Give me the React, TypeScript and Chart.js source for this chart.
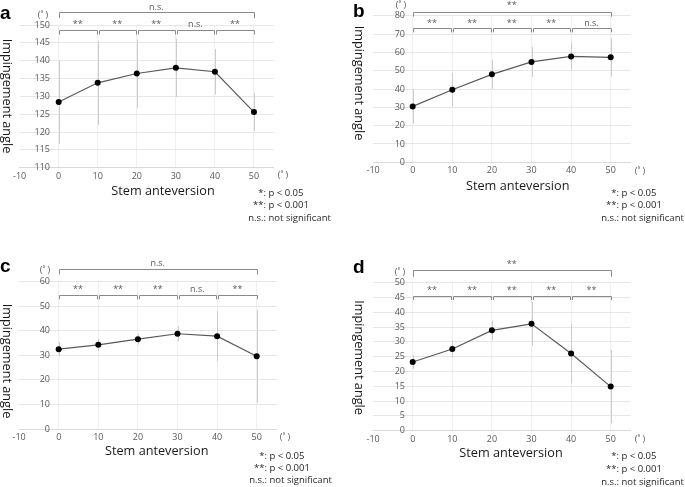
import React, { useEffect, useRef } from "react";
import { Chart, registerables } from "chart.js";

Chart.register(...registerables);

// ---------- data ----------
const ANTEVERSION = [0, 10, 20, 30, 40, 50];
const X_TICKS = [-10, 0, 10, 20, 30, 40, 50];

const A_MEAN = [128.4, 133.8, 136.4, 138.0, 136.9, 125.6];
const A_SD = [11.7, 11.8, 9.6, 8.2, 6.4, 5.3];
const A_Y_TICKS = [110, 115, 120, 125, 130, 135, 140, 145, 150];
const A_PAIR_SIG = ["**", "**", "**", "n.s.", "**"];
const A_ALL_SIG = "n.s.";

const B_MEAN = [30.5, 39.6, 48.0, 54.8, 57.8, 57.3];
const B_SD = [9.3, 9.2, 7.9, 8.2, 7.5, 10.5];
const B_Y_TICKS = [0, 10, 20, 30, 40, 50, 60, 70, 80];
const B_PAIR_SIG = ["**", "**", "**", "**", "n.s."];
const B_ALL_SIG = "**";

const C_MEAN = [32.5, 34.3, 36.6, 38.8, 37.8, 29.6];
const C_SD = [3.0, 2.6, 2.2, 3.0, 10.3, 18.9];
const C_Y_TICKS = [0, 10, 20, 30, 40, 50, 60];
const C_PAIR_SIG = ["**", "**", "**", "n.s.", "**"];
const C_ALL_SIG = "n.s.";

const D_MEAN = [23.2, 27.6, 33.9, 36.1, 26.1, 14.9];
const D_SD = [2.3, 2.9, 3.3, 7.4, 10.1, 12.4];
const D_Y_TICKS = [0, 5, 10, 15, 20, 25, 30, 35, 40, 45, 50];
const D_PAIR_SIG = ["**", "**", "**", "**", "**"];
const D_ALL_SIG = "**";

const LEGEND_KEYS = ["*", "**", "n.s."];
const LEGEND_TEXTS = ["p < 0.05", "p < 0.001", "not significant"];

const X_TITLE = "Stem anteversion";
const Y_TITLE = "Impingement angle";
const UNIT = "(\u02da )";

// ---------- layout ----------
const FONT = "'Open Sans', 'Noto Sans', sans-serif";

const PANELS = [
  {
    id: "a", mean: A_MEAN, sd: A_SD, yTicks: A_Y_TICKS, pairSig: A_PAIR_SIG, allSig: A_ALL_SIG,
    left: 0, top: 0, w: 340, h: 240,
    area: { left: 19.6, right: 273.5, top: 25, bottom: 167.7 }, labelRight: 50,
    letter: { x: 0, y: 19 }, yTitle: { x: 7, y: 96 }, xTitle: { x: 163, y: 191 },
    unitTop: { x: 43, y: 15 }, unitRight: { x: 283, y: 175.5 },
    all: { y: 12.3, tick: 18, label: 7 }, pair: { y: 30, tick: 34.5, label: 24 },
    legend: { x: 264, y: 193, dy: 12.5 },
  },
  {
    id: "b", mean: B_MEAN, sd: B_SD, yTicks: B_Y_TICKS, pairSig: B_PAIR_SIG, allSig: B_ALL_SIG,
    left: 340, top: 0, w: 345, h: 240,
    area: { left: 33.1, right: 290.5, top: 15.7, bottom: 162.3 }, labelRight: 65,
    letter: { x: 13, y: 17 }, yTitle: { x: 19, y: 83 }, xTitle: { x: 177.7, y: 186 },
    unitTop: { x: 61, y: 5 }, unitRight: { x: 300, y: 171 },
    all: { y: 12.3, tick: 16.7, label: 5 }, pair: { y: 27.7, tick: 32.3, label: 23 },
    legend: { x: 277, y: 193, dy: 12.7 },
  },
  {
    id: "c", mean: C_MEAN, sd: C_SD, yTicks: C_Y_TICKS, pairSig: C_PAIR_SIG, allSig: C_ALL_SIG,
    left: 0, top: 240, w: 340, h: 247,
    area: { left: 19.1, right: 276.5, top: 41.7, bottom: 189 }, labelRight: 50,
    letter: { x: 0, y: 32 }, yTitle: { x: 7, y: 121 }, xTitle: { x: 156.7, y: 211 },
    unitTop: { x: 45, y: 30.5 }, unitRight: { x: 285, y: 197.7 },
    all: { y: 29, tick: 34.3, label: 23.3 }, pair: { y: 55, tick: 59.3, label: 49 },
    legend: { x: 265, y: 216, dy: 12 },
  },
  {
    id: "d", mean: D_MEAN, sd: D_SD, yTicks: D_Y_TICKS, pairSig: D_PAIR_SIG, allSig: D_ALL_SIG,
    left: 340, top: 240, w: 345, h: 247,
    area: { left: 33.1, right: 290.5, top: 42.7, bottom: 190.7 }, labelRight: 65,
    letter: { x: 13, y: 33 }, yTitle: { x: 19, y: 117.6 }, xTitle: { x: 171, y: 213.3 },
    unitTop: { x: 60, y: 32 }, unitRight: { x: 300, y: 199.5 },
    all: { y: 30, tick: 36.7, label: 24 }, pair: { y: 55.7, tick: 60, label: 50.7 },
    legend: { x: 277, y: 216, dy: 13 },
  },
];

const Y_W = 4;

function makeExtras(p: any) {
  return {
    id: "extras_" + p.id,
    beforeDatasetsDraw(chart: any) {
      const { ctx } = chart;
      const xs = chart.scales.x;
      const ys = chart.scales.y;
      ctx.save();
      ctx.strokeStyle = "#cccccc";
      ctx.lineWidth = 1;
      ANTEVERSION.forEach((v, i) => {
        const x = Math.round(xs.getPixelForValue(v)) + 0.5;
        const y1 = ys.getPixelForValue(p.mean[i] + p.sd[i]);
        const y2 = ys.getPixelForValue(p.mean[i] - p.sd[i]);
        ctx.beginPath();
        ctx.moveTo(x, y1);
        ctx.lineTo(x, y2);
        ctx.stroke();
      });
      ctx.restore();
    },
    afterDraw(chart: any) {
      const { ctx } = chart;
      const xs = chart.scales.x;
      const ys = chart.scales.y;
      const px = (v: number) => xs.getPixelForValue(v);
      ctx.save();
      // y tick labels, placed right of the plot's left edge (Excel-style axis at x = 0)
      ctx.fillStyle = "#595959";
      ctx.font = `9px ${FONT}`;
      ctx.textAlign = "right";
      ctx.textBaseline = "middle";
      ys.ticks.forEach((t: any) => {
        ctx.fillText(String(t.value), p.labelRight, ys.getPixelForValue(t.value));
      });
      // brackets
      ctx.strokeStyle = "#8a8a8a";
      ctx.lineWidth = 1;
      const bracket = (x1: number, x2: number, y: number, t: number) => {
        const yy = Math.round(y) + 0.5;
        ctx.beginPath();
        ctx.moveTo(Math.round(x1) + 0.5, t);
        ctx.lineTo(Math.round(x1) + 0.5, yy);
        ctx.lineTo(Math.round(x2) + 0.5, yy);
        ctx.lineTo(Math.round(x2) + 0.5, t);
        ctx.stroke();
      };
      bracket(px(ANTEVERSION[0]), px(ANTEVERSION[ANTEVERSION.length - 1]), p.all.y, p.all.tick);
      ctx.fillStyle = "#595959";
      ctx.font = `9px ${FONT}`;
      ctx.textAlign = "center";
      ctx.textBaseline = "middle";
      ctx.fillText(p.allSig, (px(ANTEVERSION[0]) + px(ANTEVERSION[ANTEVERSION.length - 1])) / 2, p.all.label);
      for (let i = 0; i < ANTEVERSION.length - 1; i++) {
        const x1 = px(ANTEVERSION[i]) + (i === 0 ? 0 : 1);
        const x2 = px(ANTEVERSION[i + 1]) - (i === ANTEVERSION.length - 2 ? 0 : 1);
        bracket(x1, x2, p.pair.y, p.pair.tick);
        ctx.fillText(p.pairSig[i], (x1 + x2) / 2, p.pair.label);
      }
      // units
      ctx.fillText(UNIT, p.unitTop.x, p.unitTop.y);
      ctx.fillText(UNIT, p.unitRight.x, p.unitRight.y);
      // panel letter
      ctx.fillStyle = "#000";
      ctx.font = `bold 19px 'Liberation Sans', Arial, sans-serif`;
      ctx.textAlign = "left";
      ctx.textBaseline = "alphabetic";
      ctx.fillText(p.id, p.letter.x, p.letter.y);
      // axis titles
      ctx.fillStyle = "#1a1a1a";
      ctx.font = `12.7px ${FONT}`;
      ctx.textAlign = "center";
      ctx.textBaseline = "middle";
      ctx.fillText(X_TITLE, p.xTitle.x, p.xTitle.y);
      ctx.save();
      ctx.translate(p.yTitle.x, p.yTitle.y);
      ctx.rotate(Math.PI / 2);
      ctx.fillText(Y_TITLE, 0, 0);
      ctx.restore();
      // legend
      ctx.fillStyle = "#262626";
      ctx.font = `9.5px ${FONT}`;
      LEGEND_KEYS.forEach((k, i) => {
        const y = p.legend.y + i * p.legend.dy;
        ctx.textAlign = "right";
        ctx.fillText(k + ":", p.legend.x + 2, y);
        ctx.textAlign = "left";
        ctx.fillText(LEGEND_TEXTS[i], p.legend.x + 4.5, y);
      });
      ctx.restore();
    },
  };
}

function Panel({ p }: { p: any }) {
  const ref = useRef<HTMLCanvasElement>(null);
  useEffect(() => {
    const yTicks: number[] = p.yTicks;
    const chart = new Chart(ref.current as HTMLCanvasElement, {
      type: "line",
      data: {
        datasets: [
          {
            data: ANTEVERSION.map((x, i) => ({ x, y: p.mean[i] })),
            borderColor: "#5a5a5a",
            borderWidth: 1.2,
            pointRadius: 3,
            pointBackgroundColor: "#000",
            pointBorderColor: "#000",
            pointBorderWidth: 0,
            tension: 0,
          },
        ],
      },
      options: {
        animation: false,
        responsive: false,
        maintainAspectRatio: false,
        layout: {
          padding: {
            left: p.area.left - Y_W,
            right: p.w - p.area.right,
            top: p.area.top,
            bottom: 0,
          },
        },
        plugins: { legend: { display: false }, tooltip: { enabled: false }, title: { display: false } },
        scales: {
          x: {
            type: "linear",
            min: -10,
            max: 55,
            afterBuildTicks: (s: any) => {
              s.ticks = X_TICKS.map((v) => ({ value: v }));
            },
            afterFit: (s: any) => {
              s.height = p.h - p.area.bottom;
            },
            grid: {
              drawTicks: false,
              color: (c: any) => (c.tick && c.tick.value === -10 ? "rgba(0,0,0,0)" : "#efefef"),
              lineWidth: 1,
            },
            border: { display: true, color: "#d9d9d9", width: 1 },
            ticks: {
              padding: 3,
              color: "#595959",
              font: { family: FONT, size: 9 },
              maxRotation: 0,
              autoSkip: false,
              callback: (v: any) => String(v),
            },
          },
          y: {
            type: "linear",
            min: yTicks[0],
            max: yTicks[yTicks.length - 1],
            afterBuildTicks: (s: any) => {
              s.ticks = yTicks.map((v) => ({ value: v }));
            },
            afterFit: (s: any) => {
              s.width = Y_W;
            },
            grid: { drawTicks: false, color: "#e6e6e6", lineWidth: 1 },
            border: { display: false },
            ticks: { display: false },
          },
        },
      } as any,
      plugins: [makeExtras(p)],
    });
    return () => chart.destroy();
  }, []);
  return (
    <canvas
      ref={ref}
      width={p.w}
      height={p.h}
      style={{ position: "absolute", left: p.left, top: p.top, width: p.w, height: p.h }}
    />
  );
}

export default function App() {
  return (
    <div style={{ position: "absolute", left: 0, top: 0, width: 685, height: 487, background: "#fff" }}>
      {PANELS.map((p) => (
        <Panel key={p.id} p={p} />
      ))}
    </div>
  );
}
